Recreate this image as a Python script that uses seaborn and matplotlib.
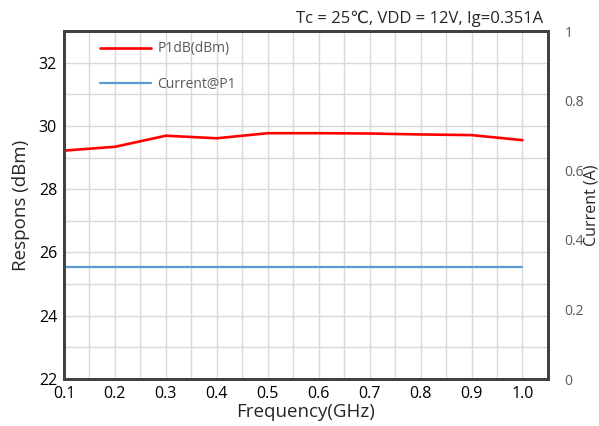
import matplotlib
matplotlib.use("Agg")
import matplotlib.pyplot as plt
import seaborn as sns
import pandas as pd
from matplotlib.ticker import MultipleLocator, FixedLocator

# Frequency sweep (GHz) and measured results
freq_ghz = [0.1, 0.2, 0.3, 0.4, 0.5, 0.6, 0.7, 0.8, 0.9, 1.0]
p1db_dbm = [29.22, 29.34, 29.69, 29.61, 29.77, 29.77, 29.76, 29.73, 29.71, 29.55]
current_a = [0.323, 0.323, 0.323, 0.323, 0.323, 0.323, 0.323, 0.323, 0.323, 0.323]

x_ticks = [0.1, 0.2, 0.3, 0.4, 0.5, 0.6, 0.7, 0.8, 0.9, 1.0]
x_tick_labels = ["0.1", "0.2", "0.3", "0.4", "0.5", "0.6", "0.7", "0.8", "0.9", "1.0"]
left_ticks = [22, 24, 26, 28, 30, 32]
right_ticks = [0, 0.2, 0.4, 0.6, 0.8, 1.0]
right_tick_labels = ["0", "0.2", "0.4", "0.6", "0.8", "1"]

title_text = "Tc = 25\u2103, VDD = 12V, Ig=0.351A"

sns.set_theme(style="white")
plt.rcParams["font.family"] = ["Open Sans", "DejaVu Sans"]

df = pd.DataFrame({"freq": freq_ghz, "p1db": p1db_dbm, "cur": current_a})

fig = plt.figure(figsize=(5.99, 4.26), dpi=100)
ax = fig.add_axes([0.1068, 0.1103, 0.808, 0.8169])
ax2 = ax.twinx()

red = "#FF0000"
blue = "#5B9BD5"
spine_col = "#404040"

sns.lineplot(data=df, x="freq", y="p1db", ax=ax, color=red, lw=1.9,
             label="P1dB(dBm)", legend=False)
sns.lineplot(data=df, x="freq", y="cur", ax=ax2, color=blue, lw=1.6,
             label="Current@P1", legend=False)

ax.set_xlim(0.1, 1.05)
ax.set_ylim(22, 33)
ax2.set_ylim(0, 1)

ax.xaxis.set_major_locator(FixedLocator(x_ticks))
ax.set_xticklabels(x_tick_labels, fontsize=11.5, color="black")
ax.xaxis.set_minor_locator(MultipleLocator(0.05))
ax.yaxis.set_major_locator(FixedLocator(left_ticks))
ax.set_yticklabels([str(v) for v in left_ticks], fontsize=11.5, color="black")
ax.yaxis.set_minor_locator(MultipleLocator(1))

ax.grid(True, which="both", color="#d9d9d9", lw=1.0)
ax.set_axisbelow(True)
ax.tick_params(which="both", length=0, pad=5)

ax2.yaxis.set_major_locator(FixedLocator(right_ticks))
ax2.set_yticklabels(right_tick_labels, fontsize=10, color="#595959")
ax2.tick_params(length=0, pad=12)
ax2.grid(False)

ax.set_xlabel("Frequency(GHz)", fontsize=13.5, labelpad=1)
ax.set_ylabel("Respons (dBm)", fontsize=13.5, labelpad=6)
ax2.set_ylabel("Current (A)", fontsize=11.5, va="center", ha="center")
ax2.yaxis.set_label_coords(1.089, 0.5)

for a in (ax, ax2):
    for s in a.spines.values():
        s.set_color(spine_col)
        s.set_linewidth(2.0)

fig.text(0.906, 0.957, title_text, ha="right", va="center", fontsize=12)

handles = ax.get_lines()[:1] + ax2.get_lines()[:1]
labels = ["P1dB(dBm)", "Current@P1"]
leg = ax.legend(handles, labels, loc="upper left", bbox_to_anchor=(0.048, 1.006),
                frameon=False, fontsize=10, handlelength=3.7, handletextpad=0.45,
                labelspacing=1.5)
for t in leg.get_texts():
    t.set_color("#595959")

fig.savefig("out.png", dpi=100)
